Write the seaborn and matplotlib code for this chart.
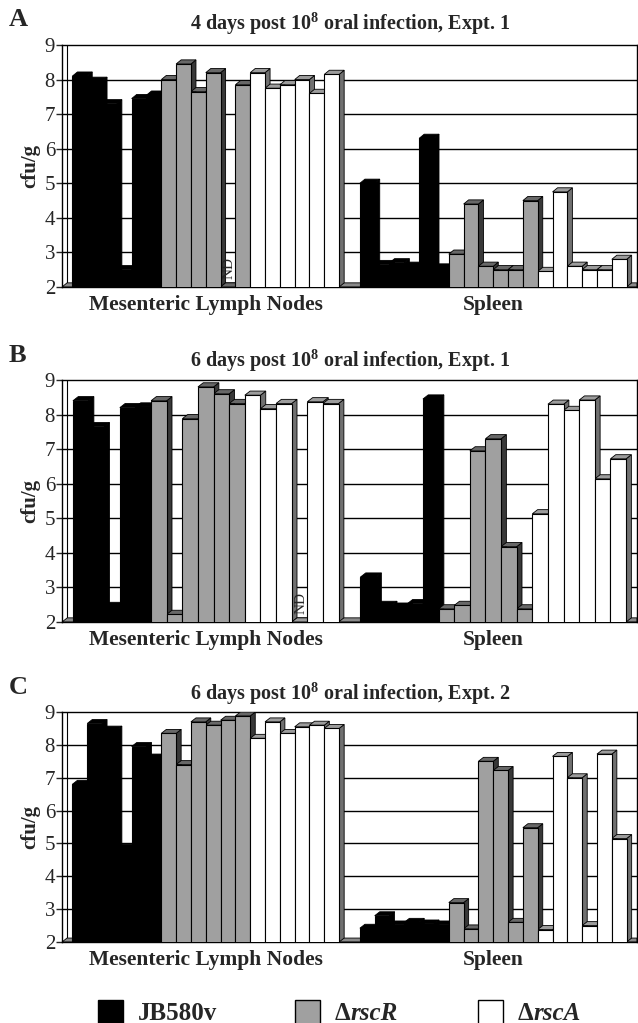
from matplotlib import pyplot as plt
from matplotlib.patches import Polygon, Rectangle
import numpy as np
import pandas as pd
import seaborn as sb

# values (log10 cfu/g), None = ND
strains = ["JB580v", "rscR", "rscA"]
organs = ["Mesenteric Lymph Nodes", "Spleen"]

# A: 4 days post infection, expt 1
a_mln_jb580v = [8.1, 7.95, 7.3, 2.5, 7.45, 7.55]
a_mln_rscr = [8.0, 8.45, 7.65, 8.2, None, 7.85]
a_mln_rsca = [8.2, 7.75, 7.85, 8.0, 7.6, 8.15]
a_spl_jb580v = [5.0, 2.65, 2.7, 2.6, 6.3, 2.55]
a_spl_rscr = [2.95, 4.4, 2.6, 2.5, 2.5, 4.5]
a_spl_rsca = [2.45, 4.75, 2.6, 2.5, 2.5, 2.8]

# B: 6 days post infection, expt 1
b_mln_jb580v = [8.4, 7.65, 2.45, 8.2, 8.22]
b_mln_rscr = [8.4, 2.22, 7.88, 8.8, 8.6, 8.32]
b_mln_rsca = [8.56, 8.17, 8.32, None, 8.37, 8.32]
b_spl_jb580v = [3.3, 2.48, 2.43, 2.53, 8.45]
b_spl_rscr = [2.38, 2.48, 6.95, 7.3, 4.18, 2.38]
b_spl_rsca = [5.13, 8.3, 8.12, 8.42, 6.14, 6.72]

# C: 6 days post infection, expt 2
c_mln_jb580v = [6.8, 8.65, 8.45, 4.85, 7.95, 7.6]
c_mln_rscr = [8.35, 7.4, 8.7, 8.6, 8.75, 8.88]
c_mln_rsca = [8.2, 8.7, 8.35, 8.55, 8.6, 8.5]
c_spl_jb580v = [2.42, 2.8, 2.52, 2.6, 2.55, 2.52]
c_spl_rscr = [3.2, 2.4, 7.5, 7.22, 2.6, 5.48]
c_spl_rsca = [2.38, 7.65, 7.0, 2.5, 7.72, 5.15]

titles = ["4 days post 10$^{\\mathbf{8}}$ oral infection, Expt. 1",
          "6 days post 10$^{\\mathbf{8}}$ oral infection, Expt. 1",
          "6 days post 10$^{\\mathbf{8}}$ oral infection, Expt. 2"]
letters = ["A", "B", "C"]
yticks = [2, 3, 4, 5, 6, 7, 8, 9]

panels = [
    [[a_mln_jb580v, a_mln_rscr, a_mln_rsca], [a_spl_jb580v, a_spl_rscr, a_spl_rsca]],
    [[b_mln_jb580v, b_mln_rscr, b_mln_rsca], [b_spl_jb580v, b_spl_rscr, b_spl_rsca]],
    [[c_mln_jb580v, c_mln_rscr, c_mln_rsca], [c_spl_jb580v, c_spl_rscr, c_spl_rsca]],
]

colors = {"JB580v": "#000000", "rscR": "#a0a0a0", "rscA": "#ffffff"}
# (top face, side face) for the fake 3d look
faces = {0.0: ("#000000", "#000000"), 0.63: ("#686868", "#383838"), 1.0: ("#9c9c9c", "#707070")}

GAP = 1.4
MARG = 0.7
DX = 0.34
DY = 0.12

sb.set_style("white")
plt.rcParams['font.family'] = ['Liberation Serif', 'DejaVu Serif']
plt.rcParams['mathtext.fontset'] = 'custom'
plt.rcParams['mathtext.rm'] = 'Liberation Serif'
plt.rcParams['mathtext.bf'] = 'Liberation Serif:bold'


def build(panel):
    n = sum(len(v) for v in panel[0])
    rows = []
    for g, sets in enumerate(panel):
        i = 0
        for strain, vals in zip(strains, sets):
            for v in vals:
                rows.append({"pos": g * (n + GAP) + i,
                             "cfu": 2.0 if v is None else v,
                             "strain": strain,
                             "nd": v is None})
                i += 1
    return pd.DataFrame(rows), n


def face_for(rgba):
    key = min(faces.keys(), key=lambda k: abs(k - rgba[0]))
    return faces[key]


W, H = 638, 1023
fig = plt.figure(figsize=(W / 100, H / 100), dpi=100)
boxes = [(45, 287), (380, 622), (712, 942)]
title_y = [24, 361, 694]
letter_y = [20, 356, 688]

for k, panel in enumerate(panels):
    top, bot = boxes[k]
    ax = fig.add_axes([62 / W, 1 - bot / H, 575 / W, (bot - top) / H])
    df, n = build(panel)
    xlo = -0.5 - MARG
    xhi = 2 * n + GAP - 0.5 + MARG
    mid = n - 0.5 + GAP / 2

    sb.barplot(data=df, x="pos", y="cfu", hue="strain", hue_order=strains,
               palette=colors, native_scale=True, dodge=False, width=1.0,
               edgecolor="black", linewidth=0.8, legend=False, errorbar=None, ax=ax)

    # floor, back wall and gridlines
    ax.add_patch(Polygon([(xlo, 2), (xlo + DX, 2 + DY), (xhi, 2 + DY), (xhi, 2)],
                         closed=True, fc="#8a8a8a", ec="black", lw=0.6, zorder=1.5))
    for t in yticks[1:-1]:
        ax.plot([xlo, xhi], [t, t], color="black", lw=1.0, zorder=1)
    ax.plot([xlo + DX, xlo + DX], [2 + DY, 9], color="black", lw=0.8, zorder=1)

    bars = sorted(ax.patches[:len(df)], key=lambda p: p.get_x())
    for i, p in enumerate(bars):
        l = p.get_x()
        r = l + p.get_width()
        h = p.get_y() + p.get_height()
        ctop, cside = face_for(p.get_facecolor())
        z = 3 + 0.02 * i
        p.set_zorder(z + 0.03)
        ax.add_patch(Polygon([(r, 2), (r + DX, 2 + DY), (r + DX, h + DY), (r, h)],
                             closed=True, fc=cside, ec="black", lw=0.6, zorder=z))
        ax.add_patch(Polygon([(l, h), (l + DX, h + DY), (r + DX, h + DY), (r, h)],
                             closed=True, fc=ctop, ec="black", lw=0.6, zorder=z))

    for _, row in df[df["nd"]].iterrows():
        ax.text(row["pos"] + 0.1, 2.55, "ND", rotation=90, ha="center", va="center",
                fontsize=11, zorder=10)

    ax.set_xlim(xlo, xhi)
    ax.set_ylim(2, 9)
    ax.set_yticks(yticks)
    ax.set_yticklabels([str(t) for t in yticks], fontsize=15)
    ax.set_xticks([(xlo + mid) / 2, (mid + xhi) / 2])
    ax.set_xticklabels(organs, fontsize=15.5, fontweight="bold")
    ax.set_xticks([xlo, mid, xhi], minor=True)
    ax.tick_params(axis="x", which="major", length=0, pad=6)
    ax.tick_params(axis="x", which="minor", length=5, direction="out", width=1)
    ax.tick_params(axis="y", length=4, direction="out", width=1, pad=1, left=True)
    ax.set_xlabel("")
    ax.set_ylabel("cfu/g", fontsize=15, fontweight="bold", labelpad=3)
    for s in ax.spines.values():
        s.set_color("black")
        s.set_linewidth(1.0)

    fig.text(350 / W, 1 - title_y[k] / H, titles[k], ha="center", va="center",
             fontsize=14.5, fontweight="bold")
    fig.text(9 / W, 1 - letter_y[k] / H, letters[k], ha="left", va="center",
             fontsize=19, fontweight="bold")

# legend along the bottom edge
leg_x = [98, 295, 478]
txt_x = [138, 335, 518]
base = 1 - 1020 / H
for j, strain in enumerate(strains):
    fig.add_artist(Rectangle((leg_x[j] / W, -0.01), 25 / W, (H - 1000) / H + 0.01,
                             transform=fig.transFigure, fc=colors[strain],
                             ec="black", lw=1))
fig.text(txt_x[0] / W, base, "JB580v", fontsize=18, fontweight="bold", va="baseline")
fig.canvas.draw()
for j, name in [(1, "rscR"), (2, "rscA")]:
    d = fig.text(txt_x[j] / W, base, "\u0394", fontsize=18, fontweight="bold", va="baseline")
    bb = d.get_window_extent(fig.canvas.get_renderer())
    fig.text(bb.x1 / fig.bbox.width, base, name, fontsize=18, fontweight="bold",
             style="italic", va="baseline")

fig.savefig("out.png", dpi=100)
